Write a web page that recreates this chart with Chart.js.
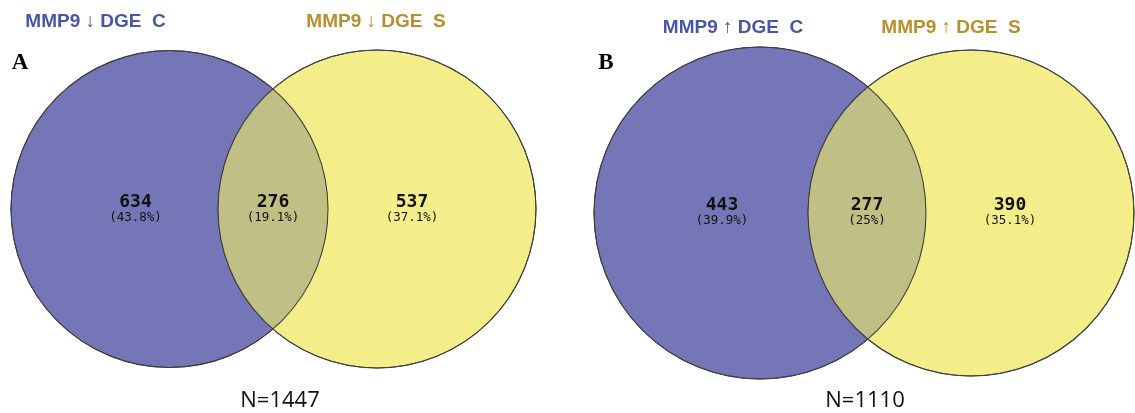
<!DOCTYPE html>
<html>
<head>
<meta charset="utf-8">
<script src="https://cdn.jsdelivr.net/npm/chart.js@4.4.1/dist/chart.umd.min.js"></script>
<style>
  html, body { margin: 0; padding: 0; background: #fff; }
  #wrap { width: 1135px; height: 413px; }
</style>
</head>
<body>
<div id="wrap"><canvas id="venn" width="1135" height="413"></canvas></div>
<script>
// values
const panelLetters = ['A', 'B'];
const setLabelsC = ['MMP9 \u2193 DGE  C', 'MMP9 \u2191 DGE  C'];
const setLabelsS = ['MMP9 \u2193 DGE  S', 'MMP9 \u2191 DGE  S'];
const onlyC = [634, 443];
const both = [276, 277];
const onlyS = [537, 390];
const pctC = ['43.8%', '39.9%'];
const pctBoth = ['19.1%', '25%'];
const pctS = ['37.1%', '35.1%'];
const totals = [1447, 1110];

// layout of the two panels (scale units == px here)
const panels = [
    { c: { x: 169.5, y: 209, r: 158.5 }, s: { x: 377, y: 209, r: 159 }, title: 22, letter: { x: 20, y: 63 }, text: 202, n: { x: 280, y: 401 } },
    { c: { x: 760, y: 213, r: 166 }, s: { x: 971, y: 213, r: 163 }, title: 28, letter: { x: 606, y: 63 }, text: 205, n: { x: 865, y: 401 } }
];

const COL_C = '#7576b8';
const COL_S = '#f4ee8a';
const COL_BOTH = '#c0bf85';
const EDGE = '#3f3f3f';
const TXT_C = '#4656a8';
const TXT_S = '#b88f2e';

const radiusPx = (chart, r) => chart.scales.x.getPixelForValue(r) - chart.scales.x.getPixelForValue(0);

const circleDataset = (key, color) => ({
    type: 'scatter',
    data: panels.map(p => ({ x: p[key].x, y: p[key].y })),
    pointRadius: (ctx) => radiusPx(ctx.chart, panels[ctx.dataIndex][key].r),
    pointHoverRadius: (ctx) => radiusPx(ctx.chart, panels[ctx.dataIndex][key].r),
    backgroundColor: color,
    borderColor: EDGE,
    borderWidth: 1
});

const vennPlugin = {
    id: 'vennPlugin',
    afterDatasetsDraw(chart) {
        const { ctx, scales: { x, y } } = chart;
        panels.forEach((p, i) => {
            const cx = x.getPixelForValue(p.c.x), cy = y.getPixelForValue(p.c.y), cr = radiusPx(chart, p.c.r);
            const sx = x.getPixelForValue(p.s.x), sy = y.getPixelForValue(p.s.y), sr = radiusPx(chart, p.s.r);
            // overlap lens
            ctx.save();
            ctx.beginPath(); ctx.arc(cx, cy, cr, 0, Math.PI * 2); ctx.clip();
            ctx.beginPath(); ctx.arc(sx, sy, sr, 0, Math.PI * 2);
            ctx.fillStyle = COL_BOTH; ctx.fill();
            ctx.restore();
            ctx.save();
            ctx.strokeStyle = EDGE; ctx.lineWidth = 1.1;
            ctx.beginPath(); ctx.arc(cx, cy, cr, 0, Math.PI * 2); ctx.stroke();
            ctx.beginPath(); ctx.arc(sx, sy, sr, 0, Math.PI * 2); ctx.stroke();
            ctx.restore();

            // region counts
            const lensL = sx - sr, lensR = cx + cr;
            const xs = [(cx - cr + lensL) / 2 + 21, (lensL + lensR) / 2, (lensR + sx + sr) / 2 - 20];
            const nums = [onlyC[i], both[i], onlyS[i]];
            const pcts = [pctC[i], pctBoth[i], pctS[i]];
            const ty = y.getPixelForValue(p.text);
            ctx.save();
            ctx.fillStyle = '#111';
            ctx.textAlign = 'center';
            ctx.textBaseline = 'middle';
            xs.forEach((tx, k) => {
                ctx.font = 'bold 18px "DejaVu Sans Mono"';
                ctx.fillText(String(nums[k]), tx, ty);
                ctx.font = '12.5px "DejaVu Sans Mono"';
                ctx.fillText('(' + pcts[k] + ')', tx, ty + 16);
            });

            // set titles
            ctx.font = 'bold 19px "Liberation Sans", Arial, sans-serif';
            ctx.fillStyle = TXT_C;
            ctx.fillText(setLabelsC[i], cx - (i === 0 ? 74 : 27), y.getPixelForValue(p.title));
            ctx.fillStyle = TXT_S;
            ctx.fillText(setLabelsS[i], sx - (i === 0 ? 1 : 20), y.getPixelForValue(p.title));

            // panel letter
            ctx.fillStyle = '#000';
            ctx.font = 'bold 23px "Liberation Serif", "Times New Roman", serif';
            ctx.fillText(panelLetters[i], x.getPixelForValue(p.letter.x), y.getPixelForValue(p.letter.y));

            // total
            ctx.font = '22px "Open Sans", "Liberation Sans", sans-serif';
            ctx.fillStyle = '#111';
            ctx.fillText('N=' + totals[i], x.getPixelForValue(p.n.x), y.getPixelForValue(p.n.y));
            ctx.restore();
        });
    }
};

new Chart(document.getElementById('venn'), {
    type: 'scatter',
    data: {
        // yellow first so that the blue circles are painted underneath it
        datasets: [circleDataset('s', COL_S), circleDataset('c', COL_C)]
    },
    options: {
        responsive: false,
        animation: false,
        events: [],
        layout: { padding: 0 },
        plugins: { legend: { display: false }, tooltip: { enabled: false } },
        scales: {
            x: { type: 'linear', min: 0, max: 1135, display: false },
            y: { type: 'linear', min: 0, max: 413, reverse: true, display: false }
        }
    },
    plugins: [vennPlugin]
});
</script>
</body>
</html>
